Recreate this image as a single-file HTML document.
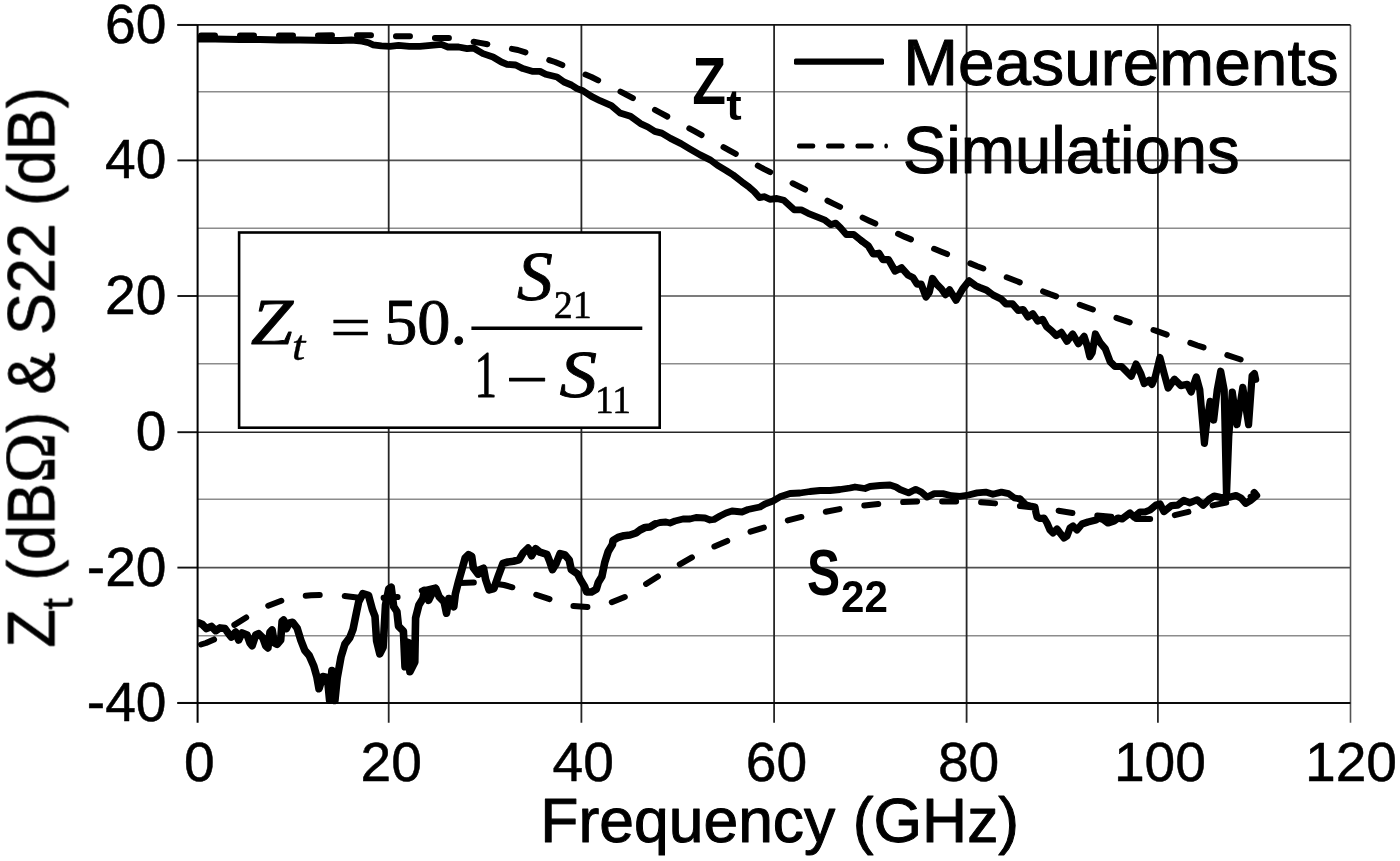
<!DOCTYPE html>
<html><head><meta charset="utf-8"><title>Zt and S22 vs Frequency</title>
<style>html,body{margin:0;padding:0;background:#fff;overflow:hidden}svg{display:block}</style></head>
<body>
<svg width="1400" height="861" viewBox="0 0 1400 861">
<rect width="1400" height="861" fill="#fff"/>
<g shape-rendering="auto">
<line x1="197.6" y1="91.8" x2="1350.5" y2="91.8" stroke="#8c8c8c" stroke-width="1.6"/>
<line x1="197.6" y1="160.4" x2="1350.5" y2="160.4" stroke="#505050" stroke-width="1.6"/>
<line x1="197.6" y1="228.3" x2="1350.5" y2="228.3" stroke="#8c8c8c" stroke-width="1.6"/>
<line x1="197.6" y1="296.0" x2="1350.5" y2="296.0" stroke="#505050" stroke-width="1.6"/>
<line x1="197.6" y1="363.8" x2="1350.5" y2="363.8" stroke="#8c8c8c" stroke-width="1.6"/>
<line x1="197.6" y1="432.2" x2="1350.5" y2="432.2" stroke="#262626" stroke-width="1.6"/>
<line x1="197.6" y1="499.2" x2="1350.5" y2="499.2" stroke="#8c8c8c" stroke-width="1.6"/>
<line x1="197.6" y1="567.6" x2="1350.5" y2="567.6" stroke="#505050" stroke-width="1.6"/>
<line x1="197.6" y1="635.8" x2="1350.5" y2="635.8" stroke="#8c8c8c" stroke-width="1.6"/>
<line x1="388.7" y1="24.9" x2="388.7" y2="722.7" stroke="#262626" stroke-width="1.8"/>
<line x1="581.4" y1="24.9" x2="581.4" y2="722.7" stroke="#262626" stroke-width="1.8"/>
<line x1="774.1" y1="24.9" x2="774.1" y2="722.7" stroke="#262626" stroke-width="1.8"/>
<line x1="966.6" y1="24.9" x2="966.6" y2="722.7" stroke="#262626" stroke-width="1.8"/>
<line x1="1157.9" y1="24.9" x2="1157.9" y2="722.7" stroke="#262626" stroke-width="1.8"/>
<line x1="1350.5" y1="24.9" x2="1350.5" y2="722.7" stroke="#555" stroke-width="1.6"/>
<line x1="177.4" y1="24.9" x2="1350.5" y2="24.9" stroke="#111" stroke-width="1.9"/>
<line x1="177.4" y1="24.9" x2="197.6" y2="24.9" stroke="#111" stroke-width="1.9"/>
<line x1="177.4" y1="160.4" x2="197.6" y2="160.4" stroke="#111" stroke-width="1.9"/>
<line x1="177.4" y1="296.0" x2="197.6" y2="296.0" stroke="#111" stroke-width="1.9"/>
<line x1="177.4" y1="432.2" x2="197.6" y2="432.2" stroke="#111" stroke-width="1.9"/>
<line x1="177.4" y1="567.6" x2="197.6" y2="567.6" stroke="#111" stroke-width="1.9"/>
<line x1="177.4" y1="702.9" x2="197.6" y2="702.9" stroke="#111" stroke-width="1.9"/>
<line x1="177.4" y1="702.9" x2="1350.5" y2="702.9" stroke="#0a0a0a" stroke-width="2"/>
<line x1="197.6" y1="24.9" x2="197.6" y2="722.7" stroke="#000" stroke-width="2"/>
</g>
<defs><clipPath id="pc"><rect x="197.6" y="20" width="1152.9" height="688"/></clipPath></defs>
<g clip-path="url(#pc)">
<polyline points="201.0,35.5 250.0,35.5 300.0,35.5 353.0,35.2 373.0,35.2 392.0,36.3 411.0,36.3 431.0,37.9 450.0,37.9 470.0,41.1 480.0,42.9 517.9,50.0 555.0,62.0 591.4,77.0 625.7,94.3 661.0,113.1 694.9,131.4 729.8,150.6 763.7,168.9 798.6,186.3 833.3,203.6 869.1,220.7 904.9,236.9 940.7,251.5 977.2,266.2 1012.5,279.5 1049.9,294.1 1086.5,307.2 1123.1,320.2 1155.6,330.7 1197.5,345.5 1234.5,357.5 1254.4,364.0" fill="none" stroke="#000" stroke-width="6" stroke-linecap="round" stroke-linejoin="round" stroke-dasharray="14 25"/>
<polyline points="201.0,644.5 206.0,643.0 214.0,639.5 231.0,627.0 247.0,617.0 265.0,607.0 282.0,600.5 301.0,596.0 311.0,595.3 321.0,595.0 340.0,595.5 357.0,597.5 380.0,598.0 399.0,597.0 418.0,591.5 436.0,587.2 456.0,583.0 476.0,582.5 490.0,582.8 504.0,585.0 515.0,588.0 534.0,594.0 551.0,599.6 570.6,605.9 590.0,607.3 609.6,603.1 627.0,596.1 644.4,585.0 660.0,575.2 678.6,565.0 693.6,556.4 712.9,547.1 729.3,540.0 749.3,532.1 765.7,527.1 786.4,520.7 803.6,516.4 824.3,512.1 842.1,508.6 861.4,505.7 881.4,503.6 901.4,502.1 920.0,501.4 940.0,501.4 958.6,501.4 978.6,502.1 997.9,503.6 1017.9,505.7 1037.1,507.9 1057.0,510.5 1075.5,513.5 1096.0,515.5 1115.0,517.0 1135.0,519.0 1154.0,519.0 1173.0,515.5 1192.0,511.0 1210.5,505.8 1231.0,501.6 1255.0,495.5" fill="none" stroke="#000" stroke-width="6" stroke-linecap="round" stroke-linejoin="round" stroke-dasharray="14 25"/>
<polyline points="198.0,39.0 215.0,39.0 240.0,39.5 260.0,39.5 280.0,40.0 300.0,40.0 330.0,40.5 340.7,40.5 351.4,40.0 362.1,41.1 368.6,42.7 372.9,44.8 381.4,45.9 390.0,46.4 398.6,45.4 409.3,46.4 420.0,46.4 430.7,45.4 441.4,44.3 447.9,47.0 458.6,47.0 467.1,48.6 473.6,48.0 480.0,51.8 483.0,53.6 493.0,57.0 501.4,62.0 507.0,64.3 515.7,65.0 522.9,68.6 532.9,71.4 540.0,71.4 545.7,74.3 557.0,77.0 564.0,82.0 571.4,85.0 577.0,88.6 582.9,90.7 591.4,96.4 600.0,100.7 611.4,105.7 620.0,113.0 630.5,116.3 640.5,123.6 647.9,127.0 654.8,131.4 661.8,133.1 670.5,138.4 681.0,143.6 689.7,148.8 700.1,154.9 710.6,160.1 717.6,165.4 726.3,170.6 733.2,175.0 742.0,181.9 749.0,187.1 754.1,191.5 759.4,197.6 764.6,196.7 769.8,199.3 776.8,198.5 783.8,200.2 794.2,209.8 801.2,209.8 808.1,213.3 816.3,216.6 824.4,219.8 830.9,224.7 835.8,223.1 840.7,228.0 846.3,234.5 853.7,234.5 861.8,241.0" fill="none" stroke="#000" stroke-width="6.8" stroke-linecap="round" stroke-linejoin="round"/>
<polyline points="861.8,241.0 868.3,245.9 873.2,254.0 878.9,253.2 882.9,259.7 888.6,259.7 895.1,271.1 901.6,267.8 908.1,275.1 913.0,277.6 917.1,284.1 921.1,284.1 926.0,297.1 929.3,292.2 932.5,278.4 936.6,284.1 941.5,289.0 945.5,294.6 949.6,289.8 956.1,300.3 962.6,289.0 969.1,280.8 975.6,285.7 980.0,287.6 986.5,290.1 993.0,295.0 1001.1,299.0 1006.0,303.9 1012.5,303.9 1018.2,310.4 1023.1,309.6 1028.0,316.9 1032.8,313.7 1037.7,321.0 1042.6,319.3 1046.7,326.7 1051.5,330.7 1056.4,335.6 1061.3,332.4 1067.0,341.3 1072.7,334.0 1078.4,343.7 1084.1,336.4 1087.3,346.2 1089.8,356.7 1092.2,352.7 1095.4,334.0 1100.3,342.9 1105.2,348.6 1110.1,361.6 1115.0,366.5 1121.5,366.5 1131.2,376.3 1136.1,364.1 1140.9,373.8 1144.2,383.6 1149.1,380.3 1152.0,384.4 1155.3,376.6 1159.9,357.5 1164.3,374.1 1168.1,388.1 1174.5,379.2 1180.9,385.6 1187.3,384.3 1191.1,392.0 1196.3,377.0 1199.8,389.8 1204.4,443.3 1206.7,422.3 1210.2,401.4 1213.7,420.0 1217.2,389.8 1220.7,371.2 1224.2,389.8 1226.5,496.7 1228.8,436.3 1232.3,392.1 1237.0,424.7 1242.8,387.4 1248.6,424.7 1252.1,375.8 1254.4,373.5 1255.6,379.3" fill="none" stroke="#000" stroke-width="7.2" stroke-linecap="round" stroke-linejoin="round"/>
<polyline points="198.5,622.9 202.1,624.3 206.4,628.6 211.4,626.4 215.7,630.7 220.0,627.9 225.0,628.6 228.6,633.6 231.4,637.1 235.7,632.1 238.6,640.0 242.1,632.9 247.1,635.0 250.0,642.9 252.1,645.7 255.7,635.0 258.6,633.6 262.9,637.9 265.7,645.7 267.9,647.9 270.0,632.1 272.1,630.0 274.3,642.9 277.1,644.3 280.7,640.0 282.1,621.4 283.6,620.0 286.4,628.6 289.3,622.9 292.6,622.3 297.2,628.3 300.9,640.4 304.7,650.2 309.2,655.5 313.8,666.0 316.8,676.6 319.0,688.7 322.8,676.6 327.4,677.4 329.6,700.3 331.9,670.6 334.9,700.5 337.2,678.1 341.0,657.0 344.9,644.1 349.8,637.6 353.0,629.4 356.3,613.2 358.7,601.8 362.8,593.7 368.5,595.3 372.5,609.9 375.0,616.4 376.6,640.8 379.8,653.8 383.1,647.3 385.5,605.0 388.8,588.8 391.2,587.2 393.7,606.7 396.9,611.5 398.5,626.2 403.4,631.1 405.0,666.8 408.3,642.4 409.9,671.7 414.8,662.0 415.6,618.0 418.9,605.0 422.9,598.5 424.6,590.4 428.6,600.2 432.7,592.0 435.9,588.8 439.2,596.9 444.1,601.8 446.5,613.2 448.9,598.5 453.8,606.7 455.4,593.7 458.7,580.7 462.0,569.3 465.2,557.9 468.5,554.6 471.7,556.3 473.3,567.6 478.2,574.1 480.0,569.7 483.5,568.3 485.6,579.4 489.1,589.9 493.9,588.5 498.1,576.6 503.0,563.4 507.9,562.0 513.4,561.3 519.0,559.9 523.2,552.9 528.1,548.1 531.5,555.7 535.7,548.8 539.9,552.2 546.9,554.3 549.7,561.3 552.4,569.7 555.9,564.1 560.1,553.6 565.0,555.0 569.2,559.9 571.3,569.7 577.5,573.8 580.3,579.4 584.5,586.4 586.6,592.0 591.5,592.0 596.3,589.2 598.4,582.2 601.9,576.6 604.7,562.7 608.2,551.5 612.4,544.6 613.0,540.5 618.0,537.5 624.0,535.7 630.0,535.0 636.0,533.0 640.0,530.0 645.0,527.5 650.0,527.0 655.0,524.0" fill="none" stroke="#000" stroke-width="7.6" stroke-linecap="round" stroke-linejoin="round"/>
<polyline points="655.0,524.0 660.0,522.5 666.0,522.0 670.0,523.0 675.0,521.0 683.0,519.0 690.0,519.0 696.0,517.5 705.0,518.0 710.0,520.0 714.0,519.5 720.0,516.0 726.0,513.0 732.0,511.0 737.0,511.5 742.0,512.0 748.0,509.5 755.0,508.0 760.0,507.0 765.0,504.0 773.0,501.0 780.0,496.8 790.0,493.5 800.0,493.0 810.0,491.5 820.0,490.5 830.0,490.5 840.0,489.5 850.0,488.0 855.0,487.0 865.0,488.5 870.0,486.5 880.0,485.5 890.0,485.0 896.0,487.0 900.0,489.5 908.6,492.9 915.7,489.3 921.4,492.1 927.1,497.1 934.3,493.6 942.9,493.6 951.4,495.7 960.0,496.4 968.6,495.0 977.1,492.9 985.7,492.1 992.9,494.3 1001.4,492.1 1008.6,493.6 1014.3,497.9 1020.0,499.0" fill="none" stroke="#000" stroke-width="6.8" stroke-linecap="round" stroke-linejoin="round"/>
<polyline points="1020.0,499.0 1023.0,502.0 1026.0,505.0 1030.0,506.0 1035.0,507.0 1036.0,513.0 1037.0,517.0 1040.0,518.5 1044.0,518.0 1047.0,523.0 1050.0,530.0 1053.0,533.0 1057.0,529.0 1060.0,533.0 1064.0,538.0 1067.0,536.0 1070.0,528.0 1073.0,526.0 1077.0,530.0 1082.0,524.0 1088.0,522.0 1096.0,520.0 1099.0,518.0 1104.0,520.0 1108.0,523.0 1114.0,521.0 1118.0,518.0 1122.0,519.0 1126.0,516.0 1130.0,513.0 1134.0,517.0 1140.0,512.0 1145.0,512.0 1150.0,510.0 1156.0,505.0 1160.0,504.0 1163.9,511.6 1171.4,505.7 1177.7,505.2 1183.8,500.4 1189.9,502.8 1197.1,499.8 1203.2,505.2 1209.3,499.1 1214.1,496.1 1220.2,497.3 1226.3,497.9 1236.0,495.5 1240.9,497.9 1245.7,503.4 1250.6,500.4 1256.6,495.5 1254.2,492.5" fill="none" stroke="#000" stroke-width="7.2" stroke-linecap="round" stroke-linejoin="round"/>
</g>
<g>
<rect x="239.1" y="232.5" width="420.6" height="195.2" fill="#fff" stroke="#000" stroke-width="2.6"/>
<line x1="471.4" y1="328.3" x2="642.3" y2="328.3" stroke="#000" stroke-width="3.5"/>
</g>
<g>
<rect x="794" y="58.5" width="90" height="6.2" rx="1.5" fill="#000"/>
<rect x="797" y="143.5" width="18.2" height="4.9" rx="2" fill="#000"/>
<rect x="826.1" y="143.5" width="18.5" height="4.9" rx="2" fill="#000"/>
<rect x="855.5" y="143.5" width="18.2" height="4.9" rx="2" fill="#000"/>
<rect x="884.4" y="143.5" width="3.5" height="4.9" rx="2" fill="#000"/>
</g>
<g fill="#000" style="will-change:transform">
<text font-family="Liberation Sans" font-size="55.2" stroke="#000" stroke-width="0.5" stroke-linejoin="round" transform="translate(105,42.8)">60</text>
<text font-family="Liberation Sans" font-size="55.2" stroke="#000" stroke-width="0.5" stroke-linejoin="round" transform="translate(105,178.3)">40</text>
<text font-family="Liberation Sans" font-size="55.2" stroke="#000" stroke-width="0.5" stroke-linejoin="round" transform="translate(105,313.9)">20</text>
<text font-family="Liberation Sans" font-size="55.2" stroke="#000" stroke-width="0.5" stroke-linejoin="round" transform="translate(135.75,450.1)">0</text>
<text font-family="Liberation Sans" font-size="55.2" stroke="#000" stroke-width="0.5" stroke-linejoin="round" transform="translate(86.75,585.5)">-20</text>
<text font-family="Liberation Sans" font-size="55.2" stroke="#000" stroke-width="0.5" stroke-linejoin="round" transform="translate(86.75,720.8)">-40</text>
<text font-family="Liberation Sans" font-size="55.2" stroke="#000" stroke-width="0.5" stroke-linejoin="round" transform="translate(184.07,781.2)">0</text>
<text font-family="Liberation Sans" font-size="55.2" stroke="#000" stroke-width="0.5" stroke-linejoin="round" transform="translate(360.5,781.2)">20</text>
<text font-family="Liberation Sans" font-size="55.2" stroke="#000" stroke-width="0.5" stroke-linejoin="round" transform="translate(552.55,781.2)">40</text>
<text font-family="Liberation Sans" font-size="55.2" stroke="#000" stroke-width="0.5" stroke-linejoin="round" transform="translate(745.8,781.2)">60</text>
<text font-family="Liberation Sans" font-size="55.2" stroke="#000" stroke-width="0.5" stroke-linejoin="round" transform="translate(937.92,781.2)">80</text>
<text font-family="Liberation Sans" font-size="55.2" stroke="#000" stroke-width="0.5" stroke-linejoin="round" transform="translate(1113.88,781.2)">100</text>
<text font-family="Liberation Sans" font-size="55.2" stroke="#000" stroke-width="0.5" stroke-linejoin="round" transform="translate(1304.97,781.2)">120</text>
<text font-family="Liberation Sans" font-size="66.2" stroke="#000" stroke-width="1.0" stroke-linejoin="round" transform="translate(903.13,84.89) scale(0.9947,0.9672)">Measurements</text>
<text font-family="Liberation Sans" font-size="66.2" stroke="#000" stroke-width="1.0" stroke-linejoin="round" transform="translate(902.84,172.65) scale(0.9842,1.0000)">Simulations</text>
<text font-family="Liberation Sans" font-size="62.5" stroke="#000" stroke-width="1.0" stroke-linejoin="round" transform="translate(540.25,842.15) scale(0.9994,1.0034)">Frequency (GHz)</text>
<text font-family="Liberation Sans" font-size="65.7" font-weight="700" transform="translate(692.22,103.9) scale(0.8414,1.0011)">Z</text>
<text font-family="Liberation Sans" font-size="42.9" font-weight="700" transform="translate(726.36,120.35) scale(1.0792,1.0018)">t</text>
<text font-family="Liberation Sans" font-size="64.8" font-weight="700" transform="translate(807.07,594.55) scale(0.7665,1.0000)">S</text>
<text font-family="Liberation Sans" font-size="43.9" font-weight="700" transform="translate(841.06,611.6) scale(0.9604,0.9984)">22</text>
<text font-family="Liberation Serif" font-size="68" font-style="italic" stroke="#000" stroke-width="0.9" stroke-linejoin="round" transform="translate(250.64,344.41) scale(1.1190,0.9758)">Z</text>
<text font-family="Liberation Serif" font-size="46" font-style="italic" stroke="#000" stroke-width="0.3" stroke-linejoin="round" transform="translate(291.87,360.15) scale(1.0638,0.9094)">t</text>
<text font-family="Liberation Serif" font-size="68" stroke="#000" stroke-width="0.4" stroke-linejoin="round" transform="translate(329.9,348.04) scale(1.0781,0.8971)">=</text>
<text font-family="Liberation Serif" font-size="68" stroke="#000" stroke-width="0.9" stroke-linejoin="round" transform="translate(384.19,344.46) scale(0.9755,0.9608)">50.</text>
<text font-family="Liberation Serif" font-size="70" font-style="italic" stroke="#000" stroke-width="0.9" stroke-linejoin="round" transform="translate(516.89,299.5) scale(1.0222,0.9969)">S</text>
<text font-family="Liberation Serif" font-size="41" stroke="#000" stroke-width="0.6" stroke-linejoin="round" transform="translate(553.81,317.75) scale(0.9262,0.9927)">21</text>
<text font-family="Liberation Serif" font-size="69" stroke="#000" stroke-width="0.9" stroke-linejoin="round" transform="translate(474.43,397) scale(0.6495,0.9914)">1</text>
<text font-family="Liberation Serif" font-size="68" stroke="#000" stroke-width="0.9" stroke-linejoin="round" transform="translate(505.87,399.73) scale(1.1108,0.8941)">−</text>
<text font-family="Liberation Serif" font-size="70" font-style="italic" stroke="#000" stroke-width="0.9" stroke-linejoin="round" transform="translate(559.56,396.52) scale(1.0726,0.9780)">S</text>
<text font-family="Liberation Serif" font-size="41" stroke="#000" stroke-width="0.6" stroke-linejoin="round" transform="translate(595.04,412.75) scale(0.9118,0.9818)">11</text>
<text font-family="Liberation Sans" font-size="65" stroke="#000" stroke-width="0.8" stroke-linejoin="round" transform="translate(5.2,646) rotate(-90) scale(0.9660,1.0290) translate(-1.75,47.5)">Z<tspan font-size="42" dy="17.5">t</tspan><tspan dy="-17.5"> (dB</tspan><tspan font-family="Liberation Serif" font-size="70">Ω</tspan>) &amp; S22 (dB)</text>
</g>
</svg>
</body></html>
